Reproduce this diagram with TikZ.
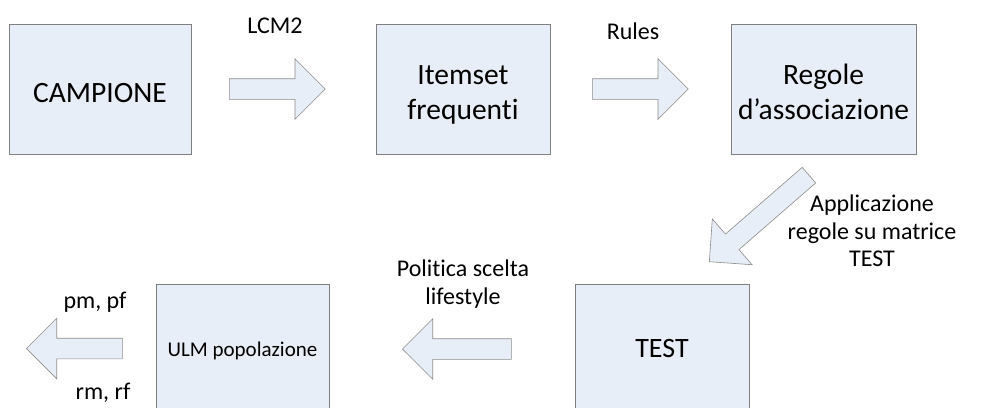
\documentclass[tikz,border=0pt]{standalone}
\usepackage{fontspec}
\setmainfont{Carlito}[RawFeature=-liga]
\usepackage{xcolor}
\usetikzlibrary{positioning,shapes.arrows}

\definecolor{boxfill}{HTML}{E8EEF7}
\definecolor{boxline}{HTML}{7F7F7F}
\definecolor{arrowline}{HTML}{8C8C8C}

\begin{document}
\begin{tikzpicture}[
    x=1pt, y=1pt,
    block/.style={
        draw=boxline,
        line width=0.8pt,
        fill=boxfill,
        minimum height=130pt,
        align=center,
        inner sep=0pt,
        font=\fontsize{29.5}{35}\selectfont
    },
    twoline/.style={text height=61pt, text depth=0pt},
    fatarrow/.style={
        single arrow,
        draw=arrowline,
        line width=0.6pt,
        fill=boxfill,
        inner sep=10pt,
        minimum width=60pt,
        single arrow head extend=20pt,
        single arrow tip angle=90,
        minimum height=96pt
    },
    note/.style={align=center, inner sep=0pt, font=\fontsize{24}{27.5}\selectfont}
]
\useasboundingbox (0,0) rectangle (987,-407);

% top row
\node[block, minimum width=182pt, text height=26pt, text depth=0pt] (campione) at (100,-89) {CAMPIONE};
\node[block, twoline, minimum width=174pt] (itemset) at (463,-89) {Itemset\\frequenti};
\node[block, twoline, minimum width=185pt] (regole) at (823.5,-89) {Regole\\d’associazione};

% bottom row
\node[block, minimum width=174pt, font=\fontsize{28}{34}\selectfont] (test) at (662,-349) {TEST};
\node[block, minimum width=173pt, text depth=0pt, font=\fontsize{21}{25}\selectfont] (ulm) at (242.5,-349) {ULM popolazione};

% block arrows
\node[fatarrow, anchor=tail] (lcmarrow) at (229,-89) {};
\node[fatarrow, anchor=tail] (rulesarrow) at (592,-89) {};
\node[fatarrow, minimum height=132pt, rotate=221, anchor=tip] (applarrow) at (709,-262) {};
\node[fatarrow, minimum height=109pt, rotate=180, anchor=tip] (polarrow) at (402,-349) {};
\node[fatarrow, rotate=180, anchor=tip] (outarrow) at (26,-348.5) {};

% labels
\node[note] (lcmlabel) at (275,-26) {LCM2};
\node[note] (ruleslabel) at (633,-31) {Rules};
\node[note] (appllabel) at (872,-231) {Applicazione\\regole su matrice\\TEST};
\node[note] (pollabel) at (463,-284) {Politica scelta\\lifestyle};
\node[note] (pmlabel) at (95,-302) {pm, pf};
\node[note] (rmlabel) at (103,-393) {rm, rf};

\end{tikzpicture}
\end{document}
